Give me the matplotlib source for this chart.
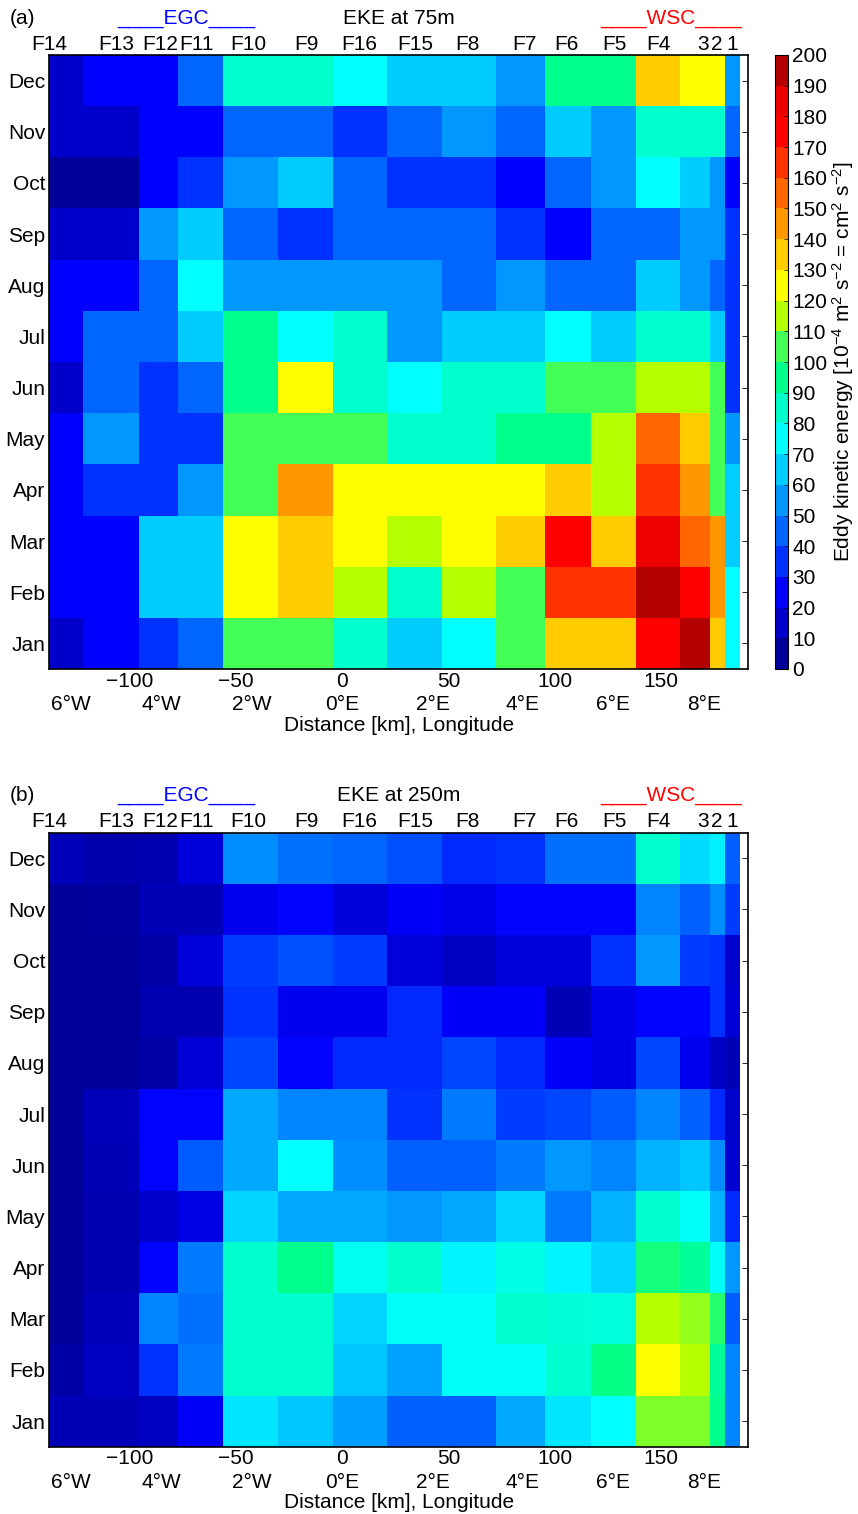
import numpy as np
import matplotlib
matplotlib.use("Agg")
import matplotlib as mpl
import matplotlib.pyplot as plt
from matplotlib.colors import LinearSegmentedColormap, Normalize

plt.rcParams['font.family'] = ['Liberation Sans', 'DejaVu Sans']
plt.rcParams['mathtext.fontset'] = 'custom'
plt.rcParams['mathtext.rm'] = 'Liberation Sans'
plt.rcParams['mathtext.it'] = 'Liberation Sans:italic'
plt.rcParams['mathtext.bf'] = 'Liberation Sans:bold'

# ---------------- data ----------------
months = ['Jan', 'Feb', 'Mar', 'Apr', 'May', 'Jun',
          'Jul', 'Aug', 'Sep', 'Oct', 'Nov', 'Dec']
moorings = ['F14', 'F13', 'F12', 'F11', 'F10', 'F9', 'F16', 'F15',
            'F8', 'F7', 'F6', 'F5', 'F4', '3', '2', '1']
mooring_km = [-137.7, -106.0, -85.5, -68.5, -44.0, -16.8, 8.0, 34.5,
              59.0, 85.5, 105.5, 128.0, 148.5, 169.5, 176.2, 183.4]
dist_ticks = [-100, -50, 0, 50, 100, 150]
lon_ticks = [-6, -4, -2, 0, 2, 4, 6, 8]
km_per_deg_lon = 21.24
cbar_ticks = list(range(0, 201, 10))

# EKE at 75 m (rows Jan..Dec, columns as moorings)
eke_75 = [
    [15, 25, 35, 45, 105, 105, 85, 65, 75, 105, 135, 135, 175, 195, 135, 75],   # Jan
    [25, 25, 65, 65, 125, 135, 115, 85, 115, 105, 165, 165, 195, 175, 145, 75],  # Feb
    [25, 25, 65, 65, 125, 135, 125, 115, 125, 135, 175, 135, 185, 155, 145, 65], # Mar
    [25, 35, 35, 55, 105, 145, 125, 125, 125, 125, 135, 115, 165, 145, 105, 65], # Apr
    [25, 55, 35, 35, 105, 105, 105, 85, 85, 95, 95, 115, 155, 135, 105, 55],     # May
    [15, 45, 35, 45, 95, 125, 85, 75, 85, 85, 105, 105, 115, 115, 105, 35],      # Jun
    [25, 45, 45, 65, 95, 75, 85, 55, 65, 65, 75, 65, 85, 85, 65, 35],            # Jul
    [25, 25, 45, 75, 55, 55, 55, 55, 45, 55, 45, 45, 65, 55, 45, 35],            # Aug
    [15, 15, 55, 65, 45, 35, 45, 45, 45, 35, 25, 45, 45, 55, 55, 35],            # Sep
    [5, 5, 25, 35, 55, 65, 45, 35, 35, 25, 45, 55, 75, 65, 55, 25],              # Oct
    [15, 15, 25, 25, 45, 45, 35, 45, 55, 45, 65, 55, 85, 85, 85, 45],            # Nov
    [15, 25, 25, 45, 85, 85, 75, 65, 65, 55, 95, 95, 135, 125, 125, 55],         # Dec
]

# EKE at 250 m
eke_250 = [
    [11, 11, 13, 24, 70, 64, 56, 44, 44, 58, 70, 75, 110, 110, 95, 51],  # Jan
    [8, 13, 35, 49, 85, 85, 64, 57, 76, 76, 84, 96, 125, 115, 93, 51],   # Feb
    [5, 12, 51, 47, 85, 85, 67, 76, 76, 85, 83, 82, 115, 112, 100, 43],  # Mar
    [5, 10, 26, 49, 85, 95, 78, 85, 73, 80, 73, 67, 98, 93, 76, 55],     # Apr
    [5, 10, 15, 20, 67, 58, 58, 55, 58, 67, 49, 60, 85, 76, 60, 33],     # May
    [5, 11, 26, 43, 58, 75, 53, 44, 44, 49, 55, 51, 60, 64, 53, 16],     # Jun
    [4, 12, 26, 26, 58, 51, 51, 35, 49, 37, 39, 43, 51, 44, 33, 15],     # Jul
    [5, 5, 8, 17, 39, 26, 33, 33, 39, 33, 24, 20, 39, 22, 14, 11],       # Aug
    [5, 5, 10, 10, 35, 22, 22, 33, 24, 24, 11, 21, 26, 26, 35, 17],      # Sep
    [5, 4, 8, 18, 37, 41, 37, 18, 14, 18, 18, 35, 55, 37, 35, 16],       # Oct
    [5, 6, 11, 11, 22, 26, 18, 24, 21, 26, 26, 26, 51, 44, 53, 37],      # Nov
    [12, 9, 10, 18, 53, 47, 45, 41, 33, 35, 47, 47, 85, 68, 72, 44],     # Dec
]

# ---------------- style ----------------
level_colors = [
    (0, 0, 0.6), (0, 0, 0.8), (0, 0, 1), (0, 0.2, 1), (0, 0.4, 1),
    (0, 0.6, 1), (0, 0.8, 1), (0, 1, 1), (0, 1, 0.8), (0, 1, 0.55),
    (0.27, 1, 0.33), (0.71, 1, 0), (1, 1, 0), (1, 0.8, 0), (1, 0.6, 0),
    (1, 0.4, 0), (1, 0.2, 0), (1, 0, 0), (0.93, 0, 0), (0.7, 0, 0),
]
nodes = [0.0] + [(k + 0.5) / 20 for k in range(20)] + [1.0]
cols = [level_colors[0]] + level_colors + [level_colors[-1]]
cmap = LinearSegmentedColormap.from_list('ekejet', list(zip(nodes, cols)), N=512)
norm = Normalize(vmin=0, vmax=200)

FS = 15
W, H = 858, 1514
fig = plt.figure(figsize=(W / 100, H / 100), dpi=100)


def fx(px):
    return px / W


def fy(py):
    return 1 - py / H


xm = np.asarray(mooring_km)
edges = np.concatenate([[xm[0]], (xm[:-1] + xm[1:]) / 2, [xm[-1] + (xm[-1] - xm[-2]) / 2]])
yedges = np.arange(len(months) + 1)

ax_left, ax_right = 49.3, 748.3
x_lo, x_hi = -137.7, 190.9


def panel(top_px, data, tag, title):
    bottom_px = top_px + 614
    ax = fig.add_axes([fx(ax_left), fy(bottom_px), fx(ax_right - ax_left), (bottom_px - top_px) / H])
    ax.pcolormesh(edges, yedges, np.asarray(data, dtype=float), cmap=cmap, norm=norm)
    ax.set_axisbelow(True)
    ax.set_xlim(x_lo, x_hi)
    ax.set_ylim(0, len(months))
    ax.set_yticks(np.arange(len(months)) + 0.5)
    ax.set_yticklabels(months, fontsize=FS)
    ax.set_xticks(dist_ticks)
    ax.set_xticklabels([str(t).replace('-', '\u2212') for t in dist_ticks], fontsize=FS)
    ax.tick_params(axis='both', direction='in', length=4, width=0.6)
    ax.tick_params(axis='x', pad=2)
    ax.tick_params(axis='y', pad=3, right=True)
    for s in ax.spines.values():
        s.set_linewidth(1.2)

    top = ax.secondary_xaxis('top')
    top.set_xticks(mooring_km)
    top.set_xticklabels(moorings, fontsize=FS)
    top.tick_params(length=0, pad=1)
    top.spines['top'].set_visible(False)

    lon = ax.secondary_xaxis('bottom', functions=(lambda x: x / km_per_deg_lon,
                                                  lambda l: l * km_per_deg_lon))
    lon.set_xticks(lon_ticks)
    lon.set_xticklabels([f'{abs(l)}\u00b0W' if l < 0 else f'{l}\u00b0E' for l in lon_ticks], fontsize=FS)
    lon.tick_params(length=0, pad=19)
    lon.spines['bottom'].set_visible(False)
    lon.set_xlabel('Distance [km], Longitude', fontsize=FS, labelpad=1)

    ty = top_px - 37
    fig.text(fx(10), fy(ty), tag, fontsize=FS, ha='left', va='center')
    fig.text(fx((ax_left + ax_right) / 2), fy(ty), title, fontsize=FS, ha='center', va='center')
    fig.text(fx(186.5), fy(ty), '____EGC____', fontsize=FS, ha='center', va='center', color='#0000ff')
    fig.text(fx(671), fy(ty), '____WSC____', fontsize=FS, ha='center', va='center', color='#ff0000')
    return ax


ax1 = panel(55, eke_75, '(a)', 'EKE at 75m')
ax2 = panel(832.7, eke_250, '(b)', 'EKE at 250m')

cax = fig.add_axes([fx(774.5), fy(669), fx(13.5), 614 / H])
cb = mpl.colorbar.ColorbarBase(cax, cmap=cmap, norm=norm,
                               boundaries=np.arange(0, 201, 10),
                               values=np.arange(5, 200, 10),
                               ticks=cbar_ticks)
cb.ax.tick_params(labelsize=FS, direction='in', length=3, width=0.5, pad=3)
cb.outline.set_linewidth(0.8)
cb.set_label('Eddy kinetic energy [10$^{-4}$ m$^{2}$ s$^{-2}$ = cm$^{2}$ s$^{-2}$]', fontsize=FS, labelpad=2)

fig.savefig('out.png', dpi=100)
